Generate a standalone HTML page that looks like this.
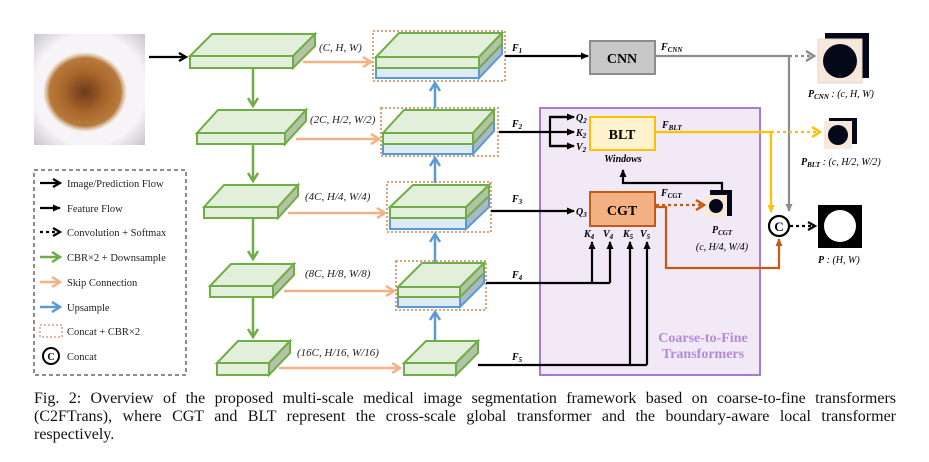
<!DOCTYPE html>
<html><head><meta charset="utf-8"><style>
body{margin:0;background:#fff;width:929px;height:462px;overflow:hidden}
svg{display:block}
text{font-family:"Liberation Serif",serif}
.cap{position:absolute;left:34px;width:862px;font-family:"Liberation Serif",serif;font-size:16px;line-height:18px;top:390px;color:#111}
.cap div{text-align:justify;text-align-last:justify;white-space:nowrap}
.cap div.l{text-align-last:left}
</style></head><body>
<svg width="929" height="462" viewBox="0 0 929 462" xmlns="http://www.w3.org/2000/svg">
<defs>
<marker id="ak" markerWidth="10" markerHeight="10" refX="8" refY="5" orient="auto" markerUnits="userSpaceOnUse"><path d="M1,1 L8,5 L1,9" fill="none" stroke="#000" stroke-width="2.2"/></marker>
<marker id="ks" markerWidth="8" markerHeight="8" refX="7" refY="4" orient="auto" markerUnits="userSpaceOnUse"><path d="M0,0.5 L8,4 L0,7.5z" fill="#000"/></marker>
<marker id="ag" markerWidth="12" markerHeight="12" refX="9" refY="6" orient="auto" markerUnits="userSpaceOnUse"><path d="M1,1 L9,6 L1,11" fill="none" stroke="#70ad47" stroke-width="2.5"/></marker>
<marker id="ab" markerWidth="12" markerHeight="12" refX="9" refY="6" orient="auto" markerUnits="userSpaceOnUse"><path d="M1,1 L9,6 L1,11" fill="none" stroke="#5b9bd5" stroke-width="2.5"/></marker>
<marker id="ao" markerWidth="12" markerHeight="12" refX="9" refY="6" orient="auto" markerUnits="userSpaceOnUse"><path d="M1,1 L9,6 L1,11" fill="none" stroke="#f4b183" stroke-width="2.5"/></marker>
<marker id="agr" markerWidth="12" markerHeight="12" refX="9" refY="6" orient="auto" markerUnits="userSpaceOnUse"><path d="M1,1 L9,6 L1,11" fill="none" stroke="#8c8c8c" stroke-width="2.5"/></marker>
<marker id="ay" markerWidth="12" markerHeight="12" refX="9" refY="6" orient="auto" markerUnits="userSpaceOnUse"><path d="M1,1 L9,6 L1,11" fill="none" stroke="#ffc000" stroke-width="2.5"/></marker>
<marker id="ac" markerWidth="12" markerHeight="12" refX="9" refY="6" orient="auto" markerUnits="userSpaceOnUse"><path d="M1,1 L9,6 L1,11" fill="none" stroke="#c55a11" stroke-width="2.5"/></marker>
<marker id="yt" markerWidth="8" markerHeight="8" refX="7" refY="4" orient="auto" markerUnits="userSpaceOnUse"><path d="M0,0.5 L8,4 L0,7.5z" fill="#ffc000"/></marker>
<marker id="gt" markerWidth="8" markerHeight="8" refX="7" refY="4" orient="auto" markerUnits="userSpaceOnUse"><path d="M0,0.5 L8,4 L0,7.5z" fill="#8c8c8c"/></marker>
<marker id="ct" markerWidth="8" markerHeight="8" refX="7" refY="4" orient="auto" markerUnits="userSpaceOnUse"><path d="M0,0.5 L8,4 L0,7.5z" fill="#c55a11"/></marker>
<radialGradient id="les" cx="50%" cy="50%" r="50%"><stop offset="0" stop-color="#6b3a1a"/><stop offset="0.5" stop-color="#a8652a"/><stop offset="0.85" stop-color="#b87a3c"/><stop offset="1" stop-color="#c99a66" stop-opacity="0"/></radialGradient>
<radialGradient id="skin" cx="50%" cy="50%" r="72%"><stop offset="0.7" stop-color="#f6f4f7"/><stop offset="1" stop-color="#c4c0c8"/></radialGradient>
</defs>

<rect x="34" y="34" width="111" height="111" fill="url(#skin)"/>
<ellipse cx="85" cy="92" rx="42" ry="40" fill="url(#les)"/>
<line x1="149" y1="57" x2="186" y2="57" stroke="#000" stroke-width="2.2" marker-end="url(#ak)"/>

<g stroke="#70ad47" stroke-width="2" stroke-linejoin="miter">
<polygon points="190,56 212,34 315,34 293,56" fill="#e2efda"/><polygon points="293,56 315,34 315,46 293,68" fill="#b3c4a6"/><rect x="190" y="56" width="103" height="12" fill="#e2efda"/>
<polygon points="197,133 218,110 306,110 285,133" fill="#e2efda"/><polygon points="285,133 306,110 306,121 285,144" fill="#b3c4a6"/><rect x="197" y="133" width="88" height="11" fill="#e2efda"/>
<polygon points="204,207 224,185 298,185 278,207" fill="#e2efda"/><polygon points="278,207 298,185 298,196 278,218" fill="#b3c4a6"/><rect x="204" y="207" width="74" height="11" fill="#e2efda"/>
<polygon points="210,286 231,264 294,264 273,286" fill="#e2efda"/><polygon points="273,286 294,264 294,275 273,297" fill="#b3c4a6"/><rect x="210" y="286" width="63" height="11" fill="#e2efda"/>
<polygon points="217,363 238,341 290,341 269,363" fill="#e2efda"/><polygon points="269,363 290,341 290,353 269,375" fill="#b3c4a6"/><rect x="217" y="363" width="52" height="12" fill="#e2efda"/>
<polygon points="404,363 426,341 478,341 456,363" fill="#e2efda"/><polygon points="456,363 478,341 478,353 456,375" fill="#b3c4a6"/><rect x="404" y="363" width="52" height="12" fill="#e2efda"/>
</g>
<g stroke="#70ad47" stroke-width="2.5">
<line x1="253" y1="69" x2="253" y2="106" marker-end="url(#ag)"/>
<line x1="253" y1="145" x2="253" y2="181" marker-end="url(#ag)"/>
<line x1="253" y1="219" x2="253" y2="259" marker-end="url(#ag)"/>
<line x1="253" y1="298" x2="253" y2="337" marker-end="url(#ag)"/>
</g>

<g stroke-width="2">
<rect x="373" y="31" width="132" height="50" fill="none" stroke="#d9a383" stroke-dasharray="2,2"/>
<polygon points="376,57 399,33 502,33 479,57" fill="#e2efda" stroke="#70ad47"/><polygon points="479,68 502,44 502,54 479,78" fill="#aab8c8" stroke="#5b9bd5"/><polygon points="479,57 502,33 502,44 479,68" fill="#b3c4a6" stroke="#70ad47"/><rect x="376" y="68" width="103" height="10" fill="#ddebf7" stroke="#5b9bd5"/><rect x="376" y="57" width="103" height="11" fill="#e2efda" stroke="#70ad47"/>
<rect x="381" y="108" width="117" height="48" fill="none" stroke="#d9a383" stroke-dasharray="2,2"/>
<polygon points="383,133 404,110 494,110 473,133" fill="#e2efda" stroke="#70ad47"/><polygon points="473,144 494,121 494,131 473,154" fill="#aab8c8" stroke="#5b9bd5"/><polygon points="473,133 494,110 494,121 473,144" fill="#b3c4a6" stroke="#70ad47"/><rect x="383" y="144" width="90" height="10" fill="#ddebf7" stroke="#5b9bd5"/><rect x="383" y="133" width="90" height="11" fill="#e2efda" stroke="#70ad47"/>
<rect x="387" y="182" width="104" height="50" fill="none" stroke="#d9a383" stroke-dasharray="2,2"/>
<polygon points="390,207 413,185 489,185 466,207" fill="#e2efda" stroke="#70ad47"/><polygon points="466,218 489,196 489,207 466,229" fill="#aab8c8" stroke="#5b9bd5"/><polygon points="466,207 489,185 489,196 466,218" fill="#b3c4a6" stroke="#70ad47"/><rect x="390" y="218" width="76" height="11" fill="#ddebf7" stroke="#5b9bd5"/><rect x="390" y="207" width="76" height="11" fill="#e2efda" stroke="#70ad47"/>
<rect x="396" y="261" width="90" height="49" fill="none" stroke="#d9a383" stroke-dasharray="2,2"/>
<polygon points="398,287 422,263 484,263 460,287" fill="#e2efda" stroke="#70ad47"/><polygon points="460,297 484,273 484,283 460,307" fill="#aab8c8" stroke="#5b9bd5"/><polygon points="460,287 484,263 484,273 460,297" fill="#b3c4a6" stroke="#70ad47"/><rect x="398" y="297" width="62" height="10" fill="#ddebf7" stroke="#5b9bd5"/><rect x="398" y="287" width="62" height="10" fill="#e2efda" stroke="#70ad47"/>
</g>
<g stroke="#5b9bd5" stroke-width="2.5">
<line x1="435" y1="340" x2="435" y2="312" marker-end="url(#ab)"/>
<line x1="435" y1="262" x2="435" y2="234" marker-end="url(#ab)"/>
<line x1="435" y1="183" x2="435" y2="158" marker-end="url(#ab)"/>
<line x1="435" y1="108" x2="435" y2="83" marker-end="url(#ab)"/>
</g>
<g stroke="#f4b183" stroke-width="2.5">
<line x1="303" y1="62" x2="371" y2="62" marker-end="url(#ao)"/>
<line x1="296" y1="139" x2="379" y2="139" marker-end="url(#ao)"/>
<line x1="288" y1="213" x2="385" y2="213" marker-end="url(#ao)"/>
<line x1="284" y1="291" x2="394" y2="291" marker-end="url(#ao)"/>
<line x1="279" y1="368" x2="400" y2="368" marker-end="url(#ao)"/>
</g>
<g font-size="11" font-style="italic" fill="#222">
<text x="319" y="51">(C,  H, W)</text>
<text x="310" y="123">(2C,  H/2, W/2)</text>
<text x="305" y="200">(4C,  H/4, W/4)</text>
<text x="305" y="277">(8C,  H/8, W/8)</text>
<text x="297" y="356">(16C,  H/16, W/16)</text>
</g>

<rect x="540" y="108" width="220" height="267" fill="#f1e9f6" stroke="#a87bd0" stroke-width="2"/>
<text x="703" y="342" font-size="14" font-weight="bold" fill="#b48ad8" text-anchor="middle">Coarse-to-Fine</text>
<text x="703" y="358" font-size="14" font-weight="bold" fill="#b48ad8" text-anchor="middle">Transformers</text>

<g stroke="#000" stroke-width="2.2" fill="none">
<line x1="505" y1="56" x2="588" y2="56" marker-end="url(#ks)"/>
<line x1="499" y1="132" x2="550" y2="132"/>
<polyline points="570,117 550,117 550,146 570,146"/>
<line x1="550" y1="117" x2="574" y2="117" marker-end="url(#ks)"/>
<line x1="550" y1="132" x2="574" y2="132" marker-end="url(#ks)"/>
<line x1="550" y1="146" x2="574" y2="146" marker-end="url(#ks)"/>
<line x1="491" y1="211" x2="574" y2="211" marker-end="url(#ks)"/>
<polyline points="486,283 610,283"/>
<line x1="592" y1="283" x2="592" y2="242" marker-end="url(#ks)"/>
<line x1="610" y1="283" x2="610" y2="242" marker-end="url(#ks)"/>
<polyline points="478,365 647,365"/>
<line x1="630" y1="365" x2="630" y2="242" marker-end="url(#ks)"/>
<line x1="647" y1="365" x2="647" y2="242" marker-end="url(#ks)"/>
<polyline points="722,194 722,183 623,183 623,170" marker-end="url(#ks)"/>
</g>
<g font-size="10" font-style="italic" font-weight="bold">
<text x="512" y="51">F<tspan font-size="7" dy="2">1</tspan></text>
<text x="512" y="127">F<tspan font-size="7" dy="2">2</tspan></text>
<text x="512" y="202">F<tspan font-size="7" dy="2">3</tspan></text>
<text x="512" y="278">F<tspan font-size="7" dy="2">4</tspan></text>
<text x="512" y="360">F<tspan font-size="7" dy="2">5</tspan></text>
<text x="576" y="121">Q<tspan font-size="7" dy="2">2</tspan></text>
<text x="576" y="136">K<tspan font-size="7" dy="2">2</tspan></text>
<text x="576" y="150">V<tspan font-size="7" dy="2">2</tspan></text>
<text x="576" y="215">Q<tspan font-size="7" dy="2">3</tspan></text>
<text x="584" y="237">K<tspan font-size="7" dy="2">4</tspan></text>
<text x="603" y="237">V<tspan font-size="7" dy="2">4</tspan></text>
<text x="623" y="237">K<tspan font-size="7" dy="2">5</tspan></text>
<text x="640" y="237">V<tspan font-size="7" dy="2">5</tspan></text>
<text x="661" y="50">F<tspan font-size="7" dy="2">CNN</tspan></text>
<text x="662" y="128">F<tspan font-size="7" dy="2">BLT</tspan></text>
<text x="661" y="196">F<tspan font-size="7" dy="2">CGT</tspan></text>
<text x="712" y="233">P<tspan font-size="7" dy="2">CGT</tspan></text>
<text x="808" y="97">P<tspan font-size="7" dy="2">CNN</tspan><tspan dy="-2" font-weight="normal"> : (c, H, W)</tspan></text>
<text x="801" y="165">P<tspan font-size="7" dy="2">BLT</tspan><tspan dy="-2" font-weight="normal"> : (c, H/2, W/2)</tspan></text>
<text x="818" y="263">P<tspan font-weight="normal"> : (H, W)</tspan></text>
</g>
<text x="623" y="162" font-size="10" font-style="italic" font-weight="bold" text-anchor="middle">Windows</text>
<text x="722" y="250" font-size="10" font-style="italic" text-anchor="middle">(c, H/4, W/4)</text>

<rect x="590" y="41" width="65" height="33" fill="#c8c8c8" stroke="#8c8c8c" stroke-width="2"/>
<text x="622" y="63" font-size="14" font-weight="bold" text-anchor="middle">CNN</text>
<rect x="590" y="117" width="65" height="33" fill="#fff2cc" stroke="#ffc000" stroke-width="2"/>
<text x="622" y="139" font-size="14" font-weight="bold" text-anchor="middle">BLT</text>
<rect x="590" y="192" width="65" height="34" fill="#f4b183" stroke="#c55a11" stroke-width="2"/>
<text x="622" y="215" font-size="14" font-weight="bold" text-anchor="middle">CGT</text>

<polyline points="655,56 789,56 789,211" fill="none" stroke="#8c8c8c" stroke-width="2.2" marker-end="url(#gt)"/>
<line x1="789" y1="56" x2="814" y2="56" stroke="#8c8c8c" stroke-width="2.2" stroke-dasharray="3,3" marker-end="url(#agr)"/>
<polyline points="655,132 771,132 771,212" fill="none" stroke="#ffc000" stroke-width="2.2" marker-end="url(#yt)"/>
<line x1="771" y1="132" x2="820" y2="132" stroke="#ffc000" stroke-width="2.2" stroke-dasharray="3,3" marker-end="url(#ay)"/>
<line x1="656" y1="205" x2="704" y2="205" stroke="#c55a11" stroke-width="2.2" stroke-dasharray="3,3" marker-end="url(#ac)"/>
<polyline points="655,207 666,207 666,268 779,268 779,239" fill="none" stroke="#c55a11" stroke-width="2.2" marker-end="url(#ct)"/>
<circle cx="779" cy="226" r="10" fill="#fff" stroke="#000" stroke-width="2.2"/>
<text x="779" y="231" font-size="13" font-weight="bold" text-anchor="middle">C</text>
<line x1="790" y1="226" x2="815" y2="226" stroke="#000" stroke-width="2.2" stroke-dasharray="3,3" marker-end="url(#ak)"/>

<rect x="825" y="33" width="44" height="45" fill="#050818"/>
<rect x="818" y="39" width="44" height="44" fill="#f8e8da" stroke="#e3d6cc"/>
<circle cx="840" cy="61" r="17" fill="#050818"/>
<rect x="829" y="118" width="28" height="26" fill="#050818"/>
<rect x="824" y="121" width="28" height="28" fill="#f8e8da"/>
<circle cx="838" cy="135" r="10" fill="#050818"/>
<rect x="710" y="190" width="22" height="26" fill="#050818"/>
<rect x="706" y="195" width="21" height="22" fill="#f8e8da"/>
<circle cx="716" cy="206" r="7" fill="#050818"/>
<rect x="818" y="205" width="44" height="43" fill="#000"/>
<circle cx="840" cy="226" r="16" fill="#fff"/>

<rect x="34" y="170" width="152" height="205" fill="none" stroke="#666" stroke-width="1.5" stroke-dasharray="4,3"/>
<g font-size="10.5" fill="#222">
<text x="67" y="187">Image/Prediction Flow</text>
<text x="67" y="212">Feature Flow</text>
<text x="67" y="236">Convolution + Softmax</text>
<text x="67" y="261">CBR×2 + Downsample</text>
<text x="67" y="286">Skip Connection</text>
<text x="67" y="311">Upsample</text>
<text x="67" y="335">Concat + CBR×2</text>
<text x="67" y="360">Concat</text>
</g>
<line x1="40" y1="183" x2="60" y2="183" stroke="#000" stroke-width="2.2" marker-end="url(#ak)"/>
<line x1="40" y1="208" x2="60" y2="208" stroke="#000" stroke-width="2.2" marker-end="url(#ks)"/>
<line x1="40" y1="232" x2="60" y2="232" stroke="#000" stroke-width="2.2" stroke-dasharray="3,3" marker-end="url(#ak)"/>
<line x1="40" y1="257" x2="60" y2="257" stroke="#70ad47" stroke-width="2.5" marker-end="url(#ag)"/>
<line x1="40" y1="282" x2="60" y2="282" stroke="#f4b183" stroke-width="2.5" marker-end="url(#ao)"/>
<line x1="40" y1="307" x2="60" y2="307" stroke="#5b9bd5" stroke-width="2.5" marker-end="url(#ab)"/>
<rect x="40" y="325" width="22" height="12" fill="none" stroke="#d9a383" stroke-width="1.5" stroke-dasharray="2,2"/>
<circle cx="51" cy="356" r="8" fill="#fff" stroke="#000" stroke-width="2"/>
<text x="51" y="360" font-size="10" font-weight="bold" text-anchor="middle">C</text>
</svg>
<div class="cap">
<div>Fig. 2: Overview of the proposed multi-scale medical image segmentation framework based on coarse-to-fine transformers</div>
<div>(C2FTrans), where CGT and BLT represent the cross-scale global transformer and the boundary-aware local transformer</div>
<div class="l">respectively.</div>
</div>
</body></html>
